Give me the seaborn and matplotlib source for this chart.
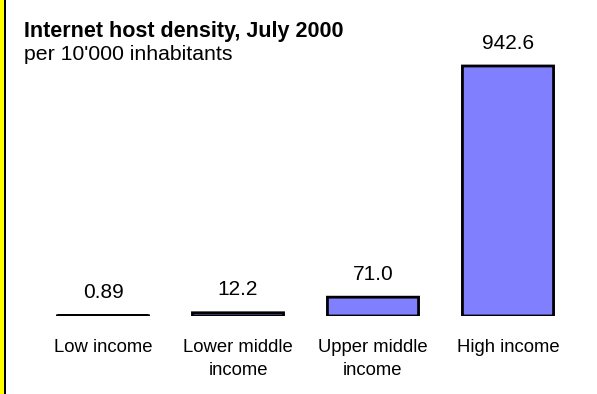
import matplotlib
matplotlib.use("Agg")
import matplotlib.pyplot as plt
import seaborn as sns
import pandas as pd
from matplotlib.patches import Rectangle

categories = ["Low income", "Lower middle\nincome", "Upper middle\nincome", "High income"]
values = [0.89, 12.2, 71.0, 942.6]
value_labels = ["0.89", "12.2", "71.0", "942.6"]

sns.set_theme(style="white")
plt.rcParams["font.family"] = ["Liberation Sans", "DejaVu Sans"]

W, H = 597, 394
fig = plt.figure(figsize=(W / 100, H / 100), dpi=100)
fig.patch.set_facecolor("white")

# Axes placed in pixel terms: baseline at y=316, x from 35.5 to 575.5
left, right, top, bottom = 35.5, 575.5, 0, 316
ax = fig.add_axes([left / W, 1 - bottom / H, (right - left) / W, (bottom - top) / H])
ax.set_facecolor("none")

df = pd.DataFrame({"category": categories, "value": values})
sns.barplot(data=df, x="category", y="value", color="#8080FF", saturation=1,
            width=0.675, edgecolor="black", linewidth=2.0, ax=ax)
for p in ax.patches:
    p.set_snap(False)

ax.set_xlim(-0.5, 3.5)
ax.set_ylim(0, 316 * 942.6 / 250)

for i, (v, lab) in enumerate(zip(values, value_labels)):
    ax.annotate(lab, (i, v), xytext=(0, 16.5), textcoords="offset points",
                ha="center", va="center", fontsize=15, color="black")

for s in ax.spines.values():
    s.set_visible(False)
ax.set_yticks([])
ax.set_xlabel("")
ax.set_ylabel("")
ax.tick_params(axis="x", length=0, pad=16.5, labelsize=13.3, labelcolor="black")
for t in ax.get_xticklabels():
    t.set_linespacing(1.45)

fig.text(24 / W, 1 - 32 / H, "Internet host density, July 2000", fontsize=15.5,
         fontweight="bold", ha="left", va="center", color="black")
fig.text(24 / W, 1 - 55 / H, "per 10'000 inhabitants", fontsize=15.3,
         ha="left", va="center", color="black")

# Yellow strip with dark rule along the left edge
fig.patches.append(Rectangle((0, 0), 4 / W, 1, transform=fig.transFigure,
                             facecolor="#FFFF00", edgecolor="none"))
fig.patches.append(Rectangle((4 / W, 0), 2 / W, 1, transform=fig.transFigure,
                             facecolor="black", edgecolor="none"))

fig.savefig("out.png", dpi=100)
